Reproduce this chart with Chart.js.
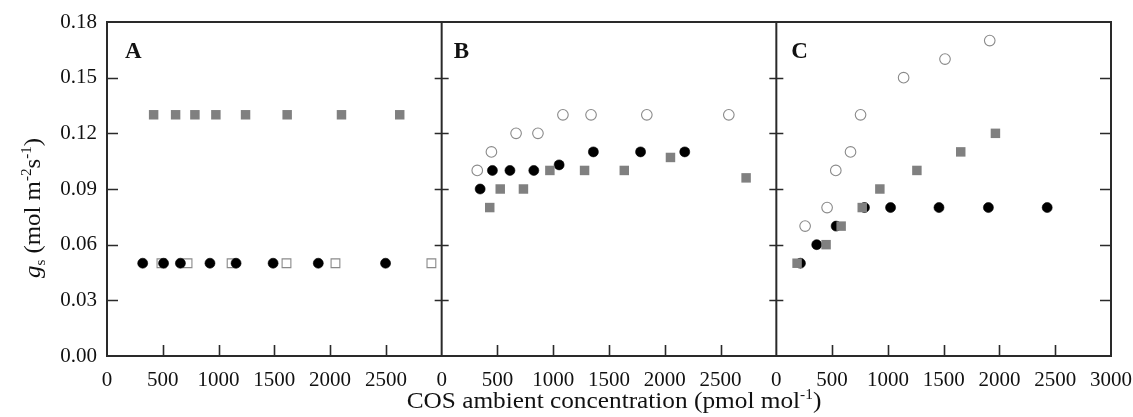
<!DOCTYPE html>
<html>
<head>
<meta charset="utf-8">
<script src="https://cdn.jsdelivr.net/npm/chart.js@4/dist/chart.umd.min.js"></script>
<style>
html,body{margin:0;padding:0;background:#fff;}
#wrap{width:1133px;height:417px;position:relative;}
</style>
</head>
<body>
<div id="wrap"><canvas id="c" width="1133" height="417"></canvas></div>
<script>
// ---- data (x in pmol mol-1, y in mol m-2 s-1) ----
const panelNames = ['A', 'B', 'C'];
const panelXMax = 3000;
const panelXTicks = [0, 500, 1000, 1500, 2000, 2500, 3000];
const yTicks = [0, 0.03, 0.06, 0.09, 0.12, 0.15, 0.18];

// Panel A
const aCircleX = [320, 507, 658, 923, 1157, 1489, 1894, 2497];
const aCircleY = [0.05, 0.05, 0.05, 0.05, 0.05, 0.05, 0.05, 0.05];
const aSquareX = [418, 615, 788, 976, 1242, 1615, 2102, 2624];
const aSquareY = [0.13, 0.13, 0.13, 0.13, 0.13, 0.13, 0.13, 0.13];
const aOpenSquareX = [488, 722, 1117, 1609, 2048, 2908];
const aOpenSquareY = [0.05, 0.05, 0.05, 0.05, 0.05, 0.05];

// Panel B
const bOpenCircleX = [319, 446, 667, 863, 1087, 1339, 1839, 2574];
const bOpenCircleY = [0.10, 0.11, 0.12, 0.12, 0.13, 0.13, 0.13, 0.13];
const bCircleX = [345, 455, 612, 826, 1053, 1360, 1783, 2179];
const bCircleY = [0.09, 0.10, 0.10, 0.10, 0.103, 0.11, 0.11, 0.11];
const bSquareX = [431, 525, 733, 970, 1281, 1637, 2051, 2729];
const bSquareY = [0.08, 0.09, 0.09, 0.10, 0.10, 0.10, 0.107, 0.096];

// Panel C
const cOpenCircleX = [258, 455, 533, 665, 755, 1141, 1512, 1913];
const cOpenCircleY = [0.07, 0.08, 0.10, 0.11, 0.13, 0.15, 0.16, 0.17];
const cCircleX = [216, 362, 536, 790, 1024, 1458, 1901, 2428];
const cCircleY = [0.05, 0.06, 0.07, 0.08, 0.08, 0.08, 0.08, 0.08];
const cSquareX = [186, 446, 581, 770, 928, 1260, 1653, 1964];
const cSquareY = [0.05, 0.06, 0.07, 0.08, 0.09, 0.10, 0.11, 0.12];

// ---- build ----
function pts(panel, xs, ys) {
  return xs.map((x, i) => ({ x: x + panel * panelXMax, y: ys[i] }));
}
const GRAY = '#808080';
const OPEN = '#8a8a8a';
const styles = {
  circle: { pointStyle: 'circle', pointRadius: 5, pointBackgroundColor: '#000', pointBorderColor: '#000', pointBorderWidth: 0.6, order: 1 },
  square: { pointStyle: 'rect', pointRadius: 6.7, pointBackgroundColor: GRAY, pointBorderColor: GRAY, pointBorderWidth: 0, order: 0 },
  openCircle: { pointStyle: 'circle', pointRadius: 5.3, pointBackgroundColor: 'rgba(255,255,255,0)', pointBorderColor: OPEN, pointBorderWidth: 1.1, order: 2 },
  openSquare: { pointStyle: 'rect', pointRadius: 6.2, pointBackgroundColor: 'rgba(255,255,255,0)', pointBorderColor: OPEN, pointBorderWidth: 1.1, order: 3 }
};
function ds(kind, data) {
  return Object.assign({ data: data, showLine: false }, styles[kind]);
}
const datasets = [
  ds('openSquare', pts(0, aOpenSquareX, aOpenSquareY)),
  ds('circle', pts(0, aCircleX, aCircleY)),
  ds('square', pts(0, aSquareX, aSquareY)),
  ds('openCircle', pts(1, bOpenCircleX, bOpenCircleY)),
  ds('circle', pts(1, bCircleX, bCircleY)),
  ds('square', pts(1, bSquareX, bSquareY)),
  ds('openCircle', pts(2, cOpenCircleX, cOpenCircleY)),
  ds('circle', pts(2, cCircleX, cCircleY)),
  ds('square', pts(2, cSquareX, cSquareY))
];

// x ticks across the three panels, labels restart in each panel
const xTickVals = [];
const xTickLabel = {};
panelNames.forEach((p, i) => {
  panelXTicks.forEach(t => {
    const v = t + i * panelXMax;
    if (xTickLabel[v] === undefined) xTickVals.push(v);
    xTickLabel[v] = String(t === panelXMax && i < panelNames.length - 1 ? 0 : t);
  });
});
panelNames.forEach((p, i) => { if (i > 0) xTickLabel[i * panelXMax] = '0'; });

const FONT = "'Liberation Serif', 'Times New Roman', serif";
const LINE = '#2a2a2a';

function drawRich(ctx, segs, cx, cy, sx) {
  let w = 0;
  segs.forEach(s => { ctx.font = (s.style || '') + ' ' + s.size + 'px ' + FONT; s.w = ctx.measureText(s.t).width; w += s.w; });
  ctx.save();
  ctx.translate(cx, cy);
  ctx.scale(sx || 1, 1);
  let x = -w / 2;
  ctx.textBaseline = 'alphabetic';
  ctx.textAlign = 'left';
  segs.forEach(s => {
    ctx.font = (s.style || '') + ' ' + s.size + 'px ' + FONT;
    ctx.fillText(s.t, x, s.dy || 0);
    x += s.w;
  });
  ctx.restore();
}

const framePlugin = {
  id: 'frame',
  afterDraw(chart) {
    const ctx = chart.ctx;
    const xs = chart.scales.x, ys = chart.scales.y;
    const L = xs.getPixelForValue(0), R = xs.getPixelForValue(panelXMax * panelNames.length);
    const T = ys.getPixelForValue(yTicks[yTicks.length - 1]), B = ys.getPixelForValue(0);
    ctx.save();
    ctx.strokeStyle = LINE;
    ctx.lineWidth = 1.6;
    ctx.beginPath();
    const innerY = yTicks.slice(1, -1);
    for (let i = 0; i <= panelNames.length; i++) {
      const px = xs.getPixelForValue(i * panelXMax);
      innerY.forEach(v => {
        const py = Math.round(ys.getPixelForValue(v)) + 0.5;
        if (i === 0) { ctx.moveTo(px, py); ctx.lineTo(px + 11, py); }
        else if (i === panelNames.length) { ctx.moveTo(px - 11, py); ctx.lineTo(px, py); }
        else { ctx.moveTo(px - 7, py); ctx.lineTo(px + 7, py); }
      });
    }
    xTickVals.forEach(v => {
      if (v % panelXMax === 0) return;
      const px = Math.round(xs.getPixelForValue(v)) + 0.5;
      ctx.moveTo(px, B); ctx.lineTo(px, B - 11);
    });
    ctx.stroke();
    ctx.lineWidth = 2;
    ctx.beginPath();
    ctx.rect(L, T, R - L, B - T);
    for (let i = 1; i < panelNames.length; i++) {
      const px = xs.getPixelForValue(i * panelXMax);
      ctx.moveTo(px, T); ctx.lineTo(px, B);
    }
    ctx.stroke();
    ctx.fillStyle = '#111';
    ctx.font = 'bold 23px ' + FONT;
    ctx.textBaseline = 'alphabetic';
    ctx.textAlign = 'left';
    const letterOff = [18, 12, 15];
    panelNames.forEach((p, i) => {
      ctx.fillText(p, xs.getPixelForValue(i * panelXMax) + letterOff[i], T + 36);
    });
    ctx.fillStyle = '#111';
    drawRich(ctx, [
      { t: 'COS ambient concentration (pmol mol', size: 23 },
      { t: '-1', size: 14, dy: -9 },
      { t: ')', size: 23 }
    ], (L + R) / 2 + 5, 408, 1.1);
    ctx.save();
    ctx.translate(40, 208);
    ctx.rotate(-Math.PI / 2);
    drawRich(ctx, [
      { t: 'g', size: 23, style: 'italic' },
      { t: 's', size: 14, dy: 5 },
      { t: ' (mol m', size: 23 },
      { t: '-2', size: 14, dy: -9 },
      { t: 's', size: 23 },
      { t: '-1', size: 14, dy: -9 },
      { t: ')', size: 23 }
    ], 0, 0, 1.08);
    ctx.restore();
    ctx.restore();
  }
};

new Chart(document.getElementById('c'), {
  type: 'scatter',
  data: { datasets: datasets },
  plugins: [framePlugin],
  options: {
    responsive: false,
    animation: false,
    events: [],
    layout: { padding: { top: 22, right: 22, left: 0, bottom: 0 } },
    plugins: { legend: { display: false }, tooltip: { enabled: false } },
    scales: {
      x: {
        type: 'linear',
        min: 0,
        max: panelXMax * panelNames.length,
        grid: { display: false, drawTicks: false },
        border: { display: false },
        afterBuildTicks: s => { s.ticks = xTickVals.map(v => ({ value: v })); },
        afterFit: s => { s.height = 61; s.paddingRight = 0; s.paddingLeft = 0; },
        ticks: {
          autoSkip: false, maxRotation: 0, minRotation: 0, padding: 12,
          color: '#111',
          font: { family: FONT, size: 21 },
          callback: v => xTickLabel[v]
        }
      },
      y: {
        type: 'linear',
        min: yTicks[0],
        max: yTicks[yTicks.length - 1],
        grid: { display: false, drawTicks: false },
        border: { display: false },
        afterBuildTicks: s => { s.ticks = yTicks.map(v => ({ value: v })); },
        afterFit: s => { s.width = 107; s.paddingTop = 0; s.paddingBottom = 0; },
        ticks: {
          padding: 10,
          color: '#111',
          font: { family: FONT, size: 21 },
          callback: v => v.toFixed(2)
        }
      }
    }
  }
});
</script>
</body>
</html>
